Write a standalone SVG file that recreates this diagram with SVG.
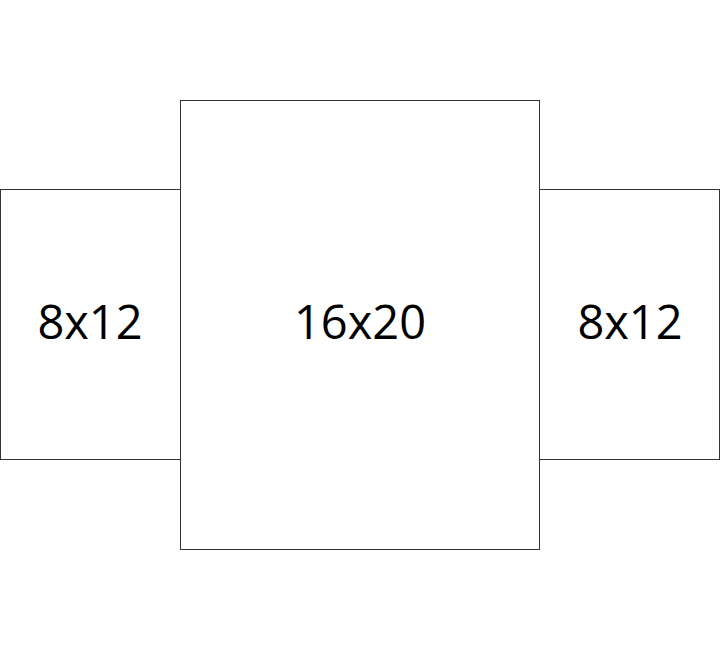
<svg xmlns="http://www.w3.org/2000/svg" width="720" height="650" viewBox="0 0 720 650">
<style>
.frame{fill:#fff;stroke:#333;stroke-width:1}
.lbl{font-family:"Open Sans","Noto Sans",sans-serif;font-size:47px;fill:#000;text-anchor:middle}
</style>
<rect width="720" height="650" fill="#fff"/>
<g id="left">
<rect class="frame" x="0.5" y="189.5" width="180" height="270"/>
<text class="lbl" x="90" y="339">8x12</text>
</g>
<g id="center">
<rect class="frame" x="180.5" y="100.5" width="359" height="449"/>
<text class="lbl" x="360" y="339">16x20</text>
</g>
<g id="right">
<rect class="frame" x="539.5" y="189.5" width="180" height="270"/>
<text class="lbl" x="630" y="339">8x12</text>
</g>
<g id="connectors"/>
</svg>
